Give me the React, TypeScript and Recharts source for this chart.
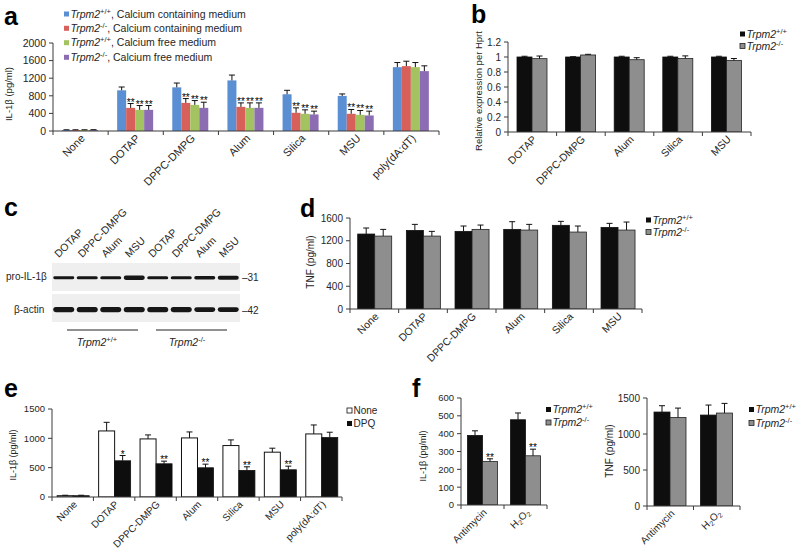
import React from 'react';
import { BarChart, Bar, XAxis, YAxis, ScatterChart, Scatter, ReferenceArea } from 'recharts';

const FONT = 'Arial, "Liberation Sans", Helvetica, sans-serif';
const AX = '#3a3a3a';
const TXT = '#262626';

// ---------- panel a ----------
const aCategories = ['None', 'DOTAP', 'DPPC-DMPG', 'Alum', 'Silica', 'MSU', 'poly(dA:dT)'];
const aWtCa = [22, 925, 992, 1150, 835, 797, 1451];
const aWtCaErr = [6, 75, 98, 121, 90, 45, 105];
const aKoCa = [22, 526, 639, 549, 414, 391, 1474];
const aKoCaErr = [6, 98, 98, 90, 112, 98, 112];
const aWtCf = [22, 481, 594, 526, 391, 368, 1451];
const aWtCfErr = [6, 98, 98, 113, 90, 98, 105];
const aKoCf = [24, 481, 526, 526, 376, 353, 1361];
const aKoCfErr = [6, 98, 128, 113, 75, 98, 120];
const aSig = ['', '**', '**', '**', '**', '**', ''];
const aTicks = [0, 400, 800, 1200, 1600, 2000];
const aGeno = ['+/+', '-/-', '+/+', '-/-'];
const aMedium = ['Calcium containing medium', 'Calcium containing medium', 'Calcium free medium', 'Calcium free medium'];
const aColors = ['#5b8fd3', '#d8605b', '#a2c35f', '#8c6db4'];

// ---------- panel b ----------
const bCategories = ['DOTAP', 'DPPC-DMPG', 'Alum', 'Silica', 'MSU'];
const bWt = [1.0, 1.0, 1.0, 1.0, 1.0];
const bWtErr = [0.01, 0.004, 0.01, 0.01, 0.01];
const bKo = [0.978, 1.027, 0.964, 0.98, 0.955];
const bKoErr = [0.035, 0.009, 0.027, 0.035, 0.025];
const bTicks = [0, 0.2, 0.4, 0.6, 0.8, 1, 1.2];

// ---------- panel c (blot) ----------
const blotLanes = ['DOTAP', 'DPPC-DMPG', 'Alum', 'MSU', 'DOTAP', 'DPPC-DMPG', 'Alum', 'MSU'];
const proIntensity = [0.45, 0.5, 0.55, 0.95, 0.55, 0.5, 0.6, 0.85];
const actinIntensity = [0.85, 0.9, 1.0, 0.95, 0.9, 0.85, 0.8, 0.8];

// ---------- panel d ----------
const dCategories = ['None', 'DOTAP', 'DPPC-DMPG', 'Alum', 'Silica', 'MSU'];
const dWt = [1318, 1382, 1365, 1400, 1471, 1435];
const dWtErr = [106, 106, 94, 135, 70, 71];
const dKo = [1282, 1282, 1400, 1388, 1353, 1388];
const dKoErr = [118, 83, 76, 100, 106, 141];
const dTicks = [0, 400, 800, 1200, 1600];

// ---------- panel e ----------
const eCategories = ['None', 'DOTAP', 'DPPC-DMPG', 'Alum', 'Silica', 'MSU', 'poly(dA:dT)'];
const eNone = [22, 1126, 990, 1007, 877, 764, 1075];
const eNoneErr = [8, 147, 68, 102, 96, 68, 153];
const eDpq = [22, 617, 566, 498, 453, 464, 1013];
const eDpqErr = [8, 90, 45, 62, 62, 62, 91];
const eSig = ['', '*', '**', '**', '**', '**', ''];
const eTicks = [0, 500, 1000, 1500];
const eSeriesNames = ['None', 'DPQ'];

// ---------- panel f ----------
const fCategories = ['Antimycin', 'H2O2'];
const fIlWt = [390, 478];
const fIlWtErr = [26, 38];
const fIlKo = [244, 276];
const fIlKoErr = [15, 37];
const fIlSig = ['**', '**'];
const fIlTicks = [0, 100, 200, 300, 400, 500, 600];
const fTnfWt = [1305, 1263];
const fTnfWtErr = [88, 139];
const fTnfKo = [1230, 1291];
const fTnfKoErr = [130, 134];
const fTnfTicks = [0, 500, 1000, 1500];

const BLACK = '#0e0e0e';
const GRAY = '#8e8e8e';

type S = { key: string; values: number[]; errors: number[]; sig?: string[]; fill: string; stroke?: string; sw?: number };

function makeShape(s: S, sigFs: number) {
  return (props: any) => {
    const { x, y, width, height, payload } = props;
    if (x == null || !isFinite(x) || !payload) return <g />;
    const v = payload[s.key];
    const e = payload[s.key + '_e'];
    const sg = payload[s.key + '_s'];
    const k = v > 0 ? height / v : 0;
    const top = y - e * k;
    const cx = x + width / 2;
    return (
      <g>
        <rect x={x} y={y} width={width} height={Math.max(height, 0)} fill={s.fill} stroke={s.stroke || 'none'} strokeWidth={s.sw || 0} />
        {e > 0 && <line x1={cx} x2={cx} y1={y} y2={top} stroke="#111" strokeWidth={1} />}
        {e > 0 && <line x1={cx - 3} x2={cx + 3} y1={top} y2={top} stroke="#111" strokeWidth={1} />}
        {sg ? (
          <text x={cx} y={top + 2} textAnchor="middle" fontSize={sigFs} fill="#000" fontFamily={FONT}>
            {sg}
          </text>
        ) : null}
      </g>
    );
  };
}

function renderLabel(s: string, fs: number) {
  if (s === 'H2O2') {
    return [
      <tspan key="1">H</tspan>,
      <tspan key="2" fontSize={fs * 0.7} dy={2}>2</tspan>,
      <tspan key="3" dy={-2}>O</tspan>,
      <tspan key="4" fontSize={fs * 0.7} dy={2}>2</tspan>,
    ];
  }
  return s;
}

type PanelProps = {
  left: number; top: number; width: number; height: number; yWidth: number; mTop: number; mRight: number; xHeight: number;
  categories: string[]; series: S[]; yMax: number; yTicks: number[]; yFmt?: (v: number) => string;
  tickFs: number; catFs: number; gap: number; lx: number; ly: number; sigFs?: number;
};

function BarPanel(p: PanelProps) {
  const rows = p.categories.map((c, i) => {
    const r: any = { cat: c };
    p.series.forEach((s) => {
      r[s.key] = s.values[i];
      r[s.key + '_e'] = s.errors[i];
      r[s.key + '_s'] = s.sig ? s.sig[i] : '';
    });
    return r;
  });
  const plotW = p.width - p.yWidth - p.mRight;
  const n = p.categories.length;
  const step = plotW / n;
  const tick = (tp: any) => {
    const { x, y, payload, index } = tp;
    return (
      <g>
        <line x1={x - step / 2} x2={x - step / 2} y1={y} y2={y + 4} stroke={AX} />
        {index === n - 1 && <line x1={x + step / 2} x2={x + step / 2} y1={y} y2={y + 4} stroke={AX} />}
        <text transform={`translate(${x + p.lx},${y + p.ly}) rotate(-45)`} textAnchor="end" fontSize={p.catFs} fill={TXT} fontFamily={FONT}>
          {renderLabel(String(payload.value), p.catFs)}
        </text>
      </g>
    );
  };
  return (
    <div style={{ position: 'absolute', left: p.left, top: p.top }}>
      <BarChart width={p.width} height={p.height} data={rows} margin={{ top: p.mTop, right: p.mRight, bottom: 0, left: 0 }} barGap={0} barCategoryGap={p.gap}>
        <XAxis dataKey="cat" height={p.xHeight} interval={0} tickLine={false} tickSize={0} tickMargin={0} axisLine={{ stroke: AX }} tick={tick} />
        <YAxis
          width={p.yWidth}
          domain={[0, p.yMax]}
          ticks={p.yTicks}
          interval={0}
          tickSize={4}
          tickMargin={3}
          axisLine={{ stroke: AX }}
          tickLine={{ stroke: AX }}
          tick={{ fontSize: p.tickFs, fill: TXT, fontFamily: FONT }}
          tickFormatter={p.yFmt}
          allowDataOverflow
        />
        {p.series.map((s) => (
          <Bar key={s.key} dataKey={s.key} isAnimationActive={false} shape={makeShape(s, p.sigFs || 10)} />
        ))}
      </BarChart>
    </div>
  );
}

function Blot() {
  const pts = [
    ...blotLanes.map((_, i) => ({ lane: i, row: 1, int: proIntensity[i], kind: 'pro' })),
    ...blotLanes.map((_, i) => ({ lane: i, row: -0.08, int: actinIntensity[i], kind: 'actin' })),
  ];
  const laneTick = (tp: any) => {
    const { x, y, payload } = tp;
    return (
      <text transform={`translate(${x - 5},${y - 5}) rotate(-45)`} textAnchor="start" fontSize={10.5} fill={TXT} fontFamily={FONT}>
        {blotLanes[payload.value]}
      </text>
    );
  };
  const band = (props: any) => {
    const { cx, cy, payload } = props;
    if (cx == null) return <g />;
    const t = payload.kind === 'pro' ? 1.8 + payload.int * 2.6 : 3 + payload.int * 2.4;
    return <rect x={cx - 10.5} y={cy - t / 2} width={21} height={t} rx={t / 2} fill="#161616" />;
  };
  return (
    <div style={{ position: 'absolute', left: 52, top: 200 }}>
      <ScatterChart width={188} height={122} margin={{ top: 0, right: 0, bottom: 0, left: 0 }}>
        <XAxis type="number" dataKey="lane" domain={[-0.5, 7.5]} ticks={[0, 1, 2, 3, 4, 5, 6, 7]} orientation="top" height={63} axisLine={false} tickLine={false} tickSize={0} tickMargin={0} interval={0} tick={laneTick} />
        <YAxis type="number" dataKey="row" domain={[-0.5, 1.5]} hide />
        <ReferenceArea x1={-0.5} x2={7.5} y1={0.55} y2={1.5} fill="#efefef" fillOpacity={1} stroke="none" />
        <ReferenceArea x1={-0.5} x2={7.5} y1={-0.5} y2={0.45} fill="#efefef" fillOpacity={1} stroke="none" />
        <Scatter data={pts} isAnimationActive={false} shape={band} />
      </ScatterChart>
    </div>
  );
}

function Geno({ g, rest, fs }: { g: string; rest?: string; fs: number }) {
  return (
    <>
      <tspan fontStyle="italic">Trpm2</tspan>
      <tspan dy={-fs * 0.38} fontSize={fs * 0.72}>{g}</tspan>
      <tspan dy={fs * 0.38}>{rest || ''}</tspan>
    </>
  );
}

function LegendItem({ x, y, fill, stroke, fs, children }: any) {
  return (
    <g>
      <rect x={x} y={y - 2.5} width={5} height={5} fill={fill} stroke={stroke || 'none'} strokeWidth={stroke ? 0.8 : 0} />
      <text x={x + 6.5} y={y + fs * 0.36} fontSize={fs} fill={TXT} fontFamily={FONT}>
        {children}
      </text>
    </g>
  );
}

function YLabel({ x, y, fs, text }: { x: number; y: number; fs: number; text: string }) {
  return (
    <text x={x} y={y} transform={`rotate(-90 ${x} ${y})`} textAnchor="middle" dy="0.35em" fontSize={fs} fill={TXT} fontFamily={FONT}>
      {text}
    </text>
  );
}

function Letter({ x, y, t }: { x: number; y: number; t: string }) {
  return (
    <text x={x} y={y} fontSize={25} fontWeight="bold" fill="#000" fontFamily={FONT}>
      {t}
    </text>
  );
}

function Overlay() {
  const legA = [14, 28.3, 42.7, 57.3];
  return (
    <svg width={800} height={556} style={{ position: 'absolute', left: 0, top: 0, pointerEvents: 'none' }}>
      <Letter x={4} y={25} t="a" />
      <Letter x={471} y={23} t="b" />
      <Letter x={4} y={216} t="c" />
      <Letter x={300} y={217} t="d" />
      <Letter x={4} y={397} t="e" />
      <Letter x={412} y={397} t="f" />

      {legA.map((cy, i) => (
        <LegendItem key={i} x={64} y={cy} fill={aColors[i]} fs={10.5}>
          <Geno g={aGeno[i]} rest={', ' + aMedium[i]} fs={10.5} />
        </LegendItem>
      ))}

      <LegendItem x={740} y={34} fill={BLACK} fs={10.5}><Geno g="+/+" fs={10.5} /></LegendItem>
      <LegendItem x={740} y={46} fill={GRAY} stroke="#222" fs={10.5}><Geno g="-/-" fs={10.5} /></LegendItem>

      <LegendItem x={646} y={220} fill={BLACK} fs={10.5}><Geno g="+/+" fs={10.5} /></LegendItem>
      <LegendItem x={646} y={232} fill={GRAY} stroke="#222" fs={10.5}><Geno g="-/-" fs={10.5} /></LegendItem>

      <LegendItem x={347} y={410.5} fill="#fff" stroke="#111" fs={10}>{eSeriesNames[0]}</LegendItem>
      <LegendItem x={347} y={423.5} fill={BLACK} fs={10}>{eSeriesNames[1]}</LegendItem>

      <LegendItem x={546} y={409.5} fill={BLACK} fs={10.5}><Geno g="+/+" fs={10.5} /></LegendItem>
      <LegendItem x={546} y={422.5} fill={GRAY} stroke="#222" fs={10.5}><Geno g="-/-" fs={10.5} /></LegendItem>

      <LegendItem x={749} y={409.5} fill={BLACK} fs={10.5}><Geno g="+/+" fs={10.5} /></LegendItem>
      <LegendItem x={749} y={423} fill={GRAY} stroke="#222" fs={10.5}><Geno g="-/-" fs={10.5} /></LegendItem>

      <YLabel x={9} y={94} fs={9.5} text="IL-1β (pg/ml)" />
      <YLabel x={479} y={91} fs={9.5} text="Relative expression per Hprt" />
      <YLabel x={310} y={262} fs={10} text="TNF (pg/ml)" />
      <YLabel x={12.5} y={455} fs={9} text="IL-1β (pg/ml)" />
      <YLabel x={422.5} y={456} fs={9} text="IL-1β (pg/ml)" />
      <YLabel x={609} y={451} fs={10} text="TNF (pg/ml)" />

      <text x={6} y={280} fontSize={10} fill={TXT} fontFamily={FONT}>pro-IL-1β</text>
      <text x={14} y={313} fontSize={10} fill={TXT} fontFamily={FONT}>β-actin</text>
      <text x={242} y={281} fontSize={10} fill={TXT} fontFamily={FONT}>–31</text>
      <text x={242} y={314} fontSize={10} fill={TXT} fontFamily={FONT}>–42</text>
      <line x1={67} x2={138} y1={330} y2={330} stroke="#222" />
      <line x1={156} x2={227} y1={330} y2={330} stroke="#222" />
      <text x={97} y={346} textAnchor="middle" fontSize={10.5} fill={TXT} fontFamily={FONT}><Geno g="+/+" fs={10.5} /></text>
      <text x={187} y={346} textAnchor="middle" fontSize={10.5} fill={TXT} fontFamily={FONT}><Geno g="-/-" fs={10.5} /></text>
    </svg>
  );
}

export default function App() {
  const aSeries: S[] = [
    { key: 'wtCa', values: aWtCa, errors: aWtCaErr, fill: aColors[0] },
    { key: 'koCa', values: aKoCa, errors: aKoCaErr, sig: aSig, fill: aColors[1] },
    { key: 'wtCf', values: aWtCf, errors: aWtCfErr, sig: aSig, fill: aColors[2] },
    { key: 'koCf', values: aKoCf, errors: aKoCfErr, sig: aSig, fill: aColors[3] },
  ];
  const bSeries: S[] = [
    { key: 'wt', values: bWt, errors: bWtErr, fill: BLACK, stroke: '#111', sw: 0.8 },
    { key: 'ko', values: bKo, errors: bKoErr, fill: GRAY, stroke: '#222', sw: 0.8 },
  ];
  const dSeries: S[] = [
    { key: 'wt', values: dWt, errors: dWtErr, fill: BLACK, stroke: '#111', sw: 0.8 },
    { key: 'ko', values: dKo, errors: dKoErr, fill: GRAY, stroke: '#222', sw: 0.8 },
  ];
  const eSeries: S[] = [
    { key: 'none', values: eNone, errors: eNoneErr, fill: '#ffffff', stroke: '#111', sw: 1 },
    { key: 'dpq', values: eDpq, errors: eDpqErr, sig: eSig, fill: BLACK, stroke: '#111', sw: 0.8 },
  ];
  const fIlSeries: S[] = [
    { key: 'wt', values: fIlWt, errors: fIlWtErr, fill: BLACK, stroke: '#111', sw: 0.8 },
    { key: 'ko', values: fIlKo, errors: fIlKoErr, sig: fIlSig, fill: GRAY, stroke: '#222', sw: 0.8 },
  ];
  const fTnfSeries: S[] = [
    { key: 'wt', values: fTnfWt, errors: fTnfWtErr, fill: BLACK, stroke: '#111', sw: 0.8 },
    { key: 'ko', values: fTnfKo, errors: fTnfKoErr, fill: GRAY, stroke: '#222', sw: 0.8 },
  ];
  return (
    <div style={{ position: 'absolute', left: 0, top: 0, width: 800, height: 556, background: '#fff', fontFamily: FONT, overflow: 'hidden' }}>
      <BarPanel left={0} top={0} width={460} height={200} yWidth={53} mTop={43} mRight={21} xHeight={69}
        categories={aCategories} series={aSeries} yMax={2000} yTicks={aTicks} tickFs={10.5} catFs={11} gap={9} lx={5} ly={8} />
      <BarPanel left={460} top={0} width={310} height={200} yWidth={48} mTop={42} mRight={19} xHeight={68}
        categories={bCategories} series={bSeries} yMax={1.2} yTicks={bTicks} yFmt={(v) => String(v)} tickFs={10} catFs={10.5} gap={9} lx={5} ly={8} />
      <Blot />
      <BarPanel left={290} top={200} width={370} height={180} yWidth={60} mTop={18} mRight={18} xHeight={71}
        categories={dCategories} series={dSeries} yMax={1600} yTicks={dTicks} tickFs={10} catFs={10.5} gap={7.7} lx={5} ly={8} />
      <BarPanel left={0} top={380} width={360} height={176} yWidth={52} mTop={29} mRight={18} xHeight={59}
        categories={eCategories} series={eSeries} yMax={1500} yTicks={eTicks} tickFs={9.5} catFs={10} gap={5.2} lx={5} ly={8} sigFs={10} />
      <BarPanel left={410} top={380} width={150} height={176} yWidth={51} mTop={18} mRight={13} xHeight={51}
        categories={fCategories} series={fIlSeries} yMax={600} yTicks={fIlTicks} tickFs={9.5} catFs={10} gap={6.5} lx={5} ly={8} sigFs={10} />
      <BarPanel left={590} top={380} width={170} height={176} yWidth={57} mTop={18} mRight={20} xHeight={50}
        categories={fCategories} series={fTnfSeries} yMax={1500} yTicks={fTnfTicks} tickFs={10} catFs={10} gap={7} lx={5} ly={8} />
      <Overlay />
    </div>
  );
}
